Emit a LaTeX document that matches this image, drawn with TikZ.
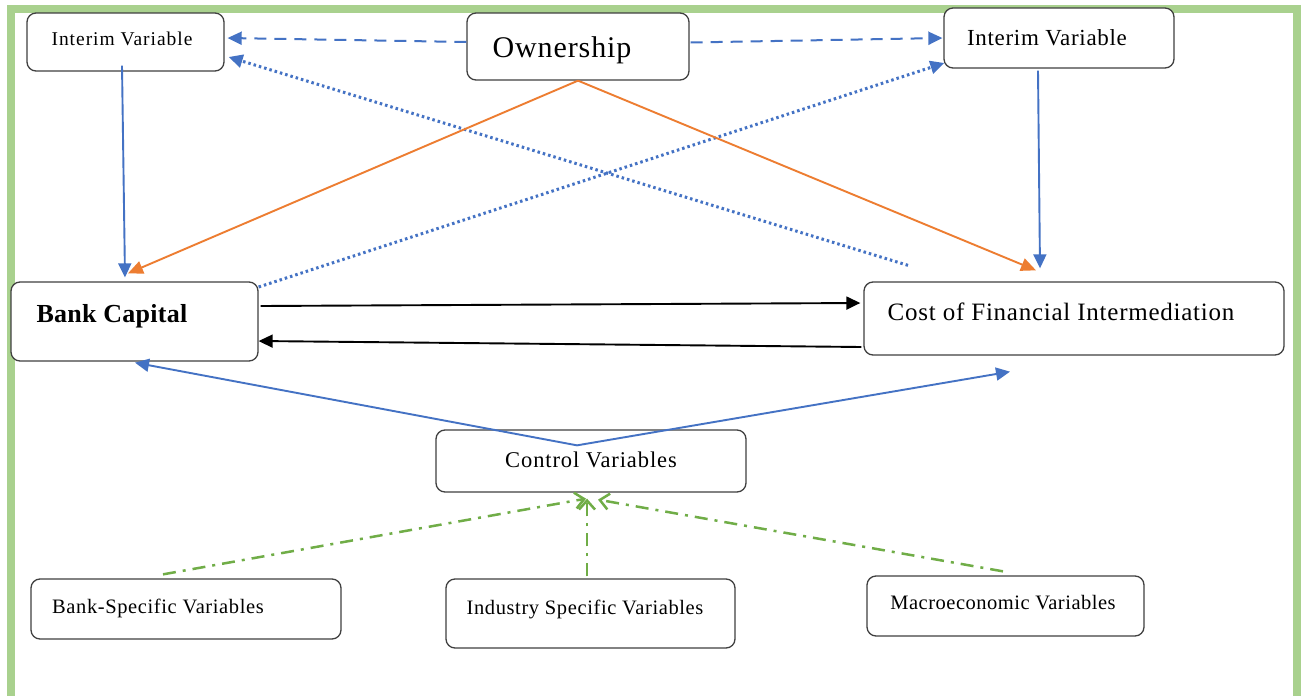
\documentclass[tikz,border=0pt]{standalone}
\usepackage{fontspec}
\setmainfont{Liberation Serif}
\usetikzlibrary{arrows.meta,calc}
\definecolor{frameg}{HTML}{A9D18E}
\definecolor{cblue}{HTML}{4472C4}
\definecolor{corange}{HTML}{ED7D31}
\definecolor{cgreen}{HTML}{70AD47}
\definecolor{cbord}{HTML}{404040}
\newcommand{\lsp}[1]{\addfontfeatures{LetterSpace=#1}}
\begin{document}
\begin{tikzpicture}[x=1pt,y=-1pt,
  box/.style={draw=cbord,line width=1.3pt,rounded corners=9pt,fill=white,inner sep=0pt},
  lbl/.style={anchor=base,inner sep=0pt},
  bluetip/.style={-{Triangle[length=14pt,width=13pt]}},
  dashblue/.style={cblue,line width=2pt,dash pattern=on 12pt off 8pt,bluetip},
  dotblue/.style={cblue,line width=3pt,dash pattern=on 2.5pt off 3pt,bluetip},
  solidblue/.style={cblue,line width=1.9pt,bluetip},
  orangearr/.style={corange,line width=1.9pt,-{Triangle[length=15pt,width=13pt]}},
  blackarr/.style={black,line width=1.9pt,-{Triangle[length=14pt,width=13pt]}},
  greenarr/.style={cgreen,line width=2.5pt,dash pattern=on 13pt off 7pt on 3pt off 7pt,-{Straight Barb[length=9pt,width=16pt]}}]
\useasboundingbox (0,0) rectangle (1304,696);
\fill[white] (0,0) rectangle (1304,696);
\draw[frameg,line width=8pt] (11,9) rectangle (1296.5,700);
% boxes
\node[box,minimum width=197pt,minimum height=58pt] (intL) at (125.5,42) {};
\node[box,minimum width=222pt,minimum height=67pt] (own) at (578,46.5) {};
\node[box,minimum width=230pt,minimum height=60pt] (intR) at (1059,38) {};
\node[box,minimum width=247pt,minimum height=79pt] (bank) at (134.5,321.5) {};
\node[box,minimum width=420pt,minimum height=73pt] (cost) at (1074,318.5) {};
\node[box,minimum width=310pt,minimum height=62pt] (ctrl) at (591,461) {};
\node[box,minimum width=310pt,minimum height=60pt] (bsv) at (186,609) {};
\node[box,minimum width=289pt,minimum height=69pt] (isv) at (590.5,613.5) {};
\node[box,minimum width=277pt,minimum height=60pt] (mev) at (1005.5,606) {};
% free ends
\coordinate (dotS) at ($(cost.north)+(-166,-16)$);
\coordinate (apex) at ($(ctrl.north)+(-14,16)$);
\coordinate (costB) at ($(cost.south)+(-64,16)$);
% connectors
\draw[dashblue] ($(own.west)+(0,-4.5)$) -- ($(intL.east)+(3,-4)$);
\draw[dashblue] ($(own.east)+(1,-4)$) -- ($(intR.west)+(-1,0)$);
\draw[dotblue] (dotS) -- ($(intL.east)+(4,15)$);
\draw[dotblue] ($(bank.east)+(0,-34.5)$) -- ($(intR.west)+(1,25)$);
\draw[orangearr] (own.south) -- ($(bank.north)+(-6.5,-8)$);
\draw[orangearr] (own.south) -- ($(cost.north)+(-38,-11)$);
\draw[solidblue] ($(intL.south)+(-3.5,-6)$) -- ($(bank.north)+(-9.5,-4)$);
\draw[solidblue] ($(intR.south)+(-21,2)$) -- ($(cost.north)+(-34,-13)$);
\draw[blackarr] ($(bank.east)+(2,-15.5)$) -- ($(cost.west)+(-3,-15.5)$);
\draw[blackarr] ($(cost.west)+(-2,28.5)$) -- ($(bank.east)+(0,19.5)$);
\draw[solidblue] (apex) -- ($(bank.south)+(0.5,1)$);
\draw[solidblue] (apex) -- (costB);
\draw[greenarr] ($(bsv.north)+(-23,-4)$) -- ($(ctrl.south)+(-5,6)$);
\draw[greenarr] ($(isv.north)+(-3.5,-2)$) -- ($(ctrl.south)+(-4,6)$);
\draw[greenarr] ($(mev.north)+(-2.5,-4)$) -- ($(ctrl.south)+(7,7)$);
% texts
\node[lbl,font=\fontsize{19.5}{22}\selectfont\lsp{5}] (intL-t) at (122,45) {Interim Variable};
\node[lbl,font=\fontsize{30}{34}\selectfont\lsp{3}] (own-t) at (562,57) {Ownership};
\node[lbl,font=\fontsize{23}{26}\selectfont\lsp{3}] (intR-t) at (1047,45) {Interim Variable};
\node[lbl,font=\bfseries\fontsize{26}{30}\selectfont\lsp{1}] (bank-t) at (112,322) {Bank Capital};
\node[lbl,font=\fontsize{25}{29}\selectfont\lsp{3}] (cost-t) at (1061,320) {Cost of Financial Intermediation};
\node[lbl,font=\fontsize{22.5}{26}\selectfont\lsp{4}] (ctrl-t) at (591,467) {Control Variables};
\node[lbl,font=\fontsize{20.5}{24}\selectfont\lsp{3}] (isv-t) at (585,614) {Industry Specific Variables};
\node[lbl,font=\fontsize{20.5}{24}\selectfont\lsp{3}] (bsv-t) at (158,613) {Bank-Specific Variables};
\node[lbl,font=\fontsize{20.5}{24}\selectfont\lsp{2.5}] (mev-t) at (1003,609) {Macroeconomic Variables};
\end{tikzpicture}
\end{document}
